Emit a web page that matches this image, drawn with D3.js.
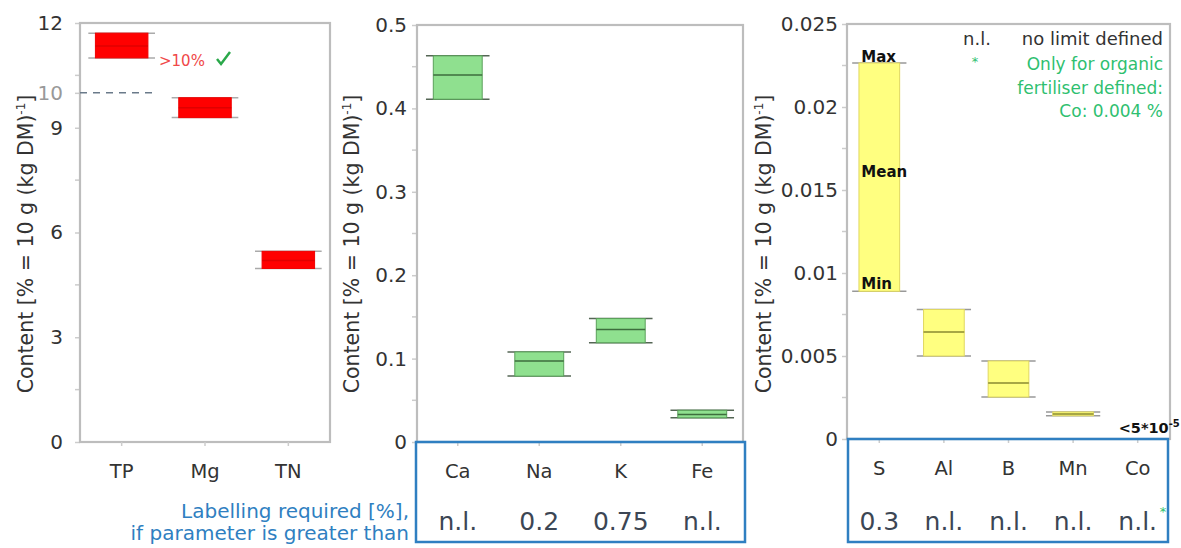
<!DOCTYPE html>
<html><head><meta charset="utf-8">
<script src="https://cdn.jsdelivr.net/npm/d3@7"></script>
<style>body{margin:0;background:#fff}svg{display:block;font-family:"DejaVu Sans",sans-serif}</style>
</head><body><svg id="c" width="1181" height="548"></svg>
<script>
// ---- data ----
const macroCats = ["TP","Mg","TN"];
const macroMin  = [11.0, 9.29, 4.97];
const macroMean = [11.34, 9.57, 5.2];
const macroMax  = [11.71, 9.86, 5.46];
const macroTicks = [0,3,6,9,10,12];
const macroMinor = [1.5,4.5,7.5,10.5];

const mainCats = ["Ca","Na","K","Fe"];
const mainMin  = [0.411, 0.079, 0.119, 0.029];
const mainMean = [0.44, 0.097, 0.135, 0.033];
const mainMax  = [0.463, 0.108, 0.148, 0.038];
const mainLimits = ["n.l.","0.2","0.75","n.l."];
const mainTicks = [0,0.1,0.2,0.3,0.4,0.5];
const mainMinor = [0.05,0.15,0.25,0.35,0.45];

const traceCats = ["S","Al","B","Mn","Co"];
const traceMin  = [0.0089, 0.005, 0.00253, 0.0014, null];
const traceMean = [0.016, 0.00645, 0.00337, 0.0015, null];
const traceMax  = [0.02265, 0.0078, 0.0047, 0.00163, null];
const traceLimits = ["0.3","n.l.","n.l.","n.l.","n.l."];
const traceTicks = [0,0.005,0.01,0.015,0.02,0.025];
const traceMinor = [0.0025,0.0075,0.0125,0.0175,0.0225];

const svg = d3.select("#c");
const FONT = "DejaVu Sans, sans-serif";
const axisGrey = "#bdbdbd";
const textCol = "#333";
const blue = "#2f7fc1";
const green = "#2fbf70";

function panel(o){
  const g = svg.append("g");
  const x = d3.scaleBand().domain(o.cats).range([o.x0,o.x1]).padding(0);
  const y = d3.scaleLinear().domain([0,o.ymax]).range([o.yb,o.yt]);
  g.selectAll(".mn").data(o.minor).join("line")
    .attr("x1",o.x0-5).attr("x2",o.x0).attr("y1",d=>y(d)).attr("y2",d=>y(d))
    .attr("stroke","#ccc").attr("stroke-width",1.5);
  const ax = d3.axisLeft(y).tickValues(o.ticks).tickFormat(o.fmt).tickSize(5).tickPadding(o.pad);
  const ag = g.append("g").attr("transform",`translate(${o.x0},0)`).call(ax);
  ag.select(".domain").remove();
  ag.selectAll("line").attr("stroke","#ccc").attr("stroke-width",1.5);
  ag.selectAll("text").attr("fill",textCol).style("font-size","20px").style("font-family",FONT);
  if(o.dimTick!==undefined) ag.selectAll("text").filter(d=>d===o.dimTick).attr("fill","#999");
  g.append("rect").attr("x",o.x0).attr("y",o.yt).attr("width",o.x1-o.x0).attr("height",o.yb-o.yt)
    .attr("fill","none").attr("stroke",axisGrey).attr("stroke-width",2.2);
  g.selectAll(".xt").data(o.cats).join("line")
    .attr("x1",d=>x(d)+x.bandwidth()/2).attr("x2",d=>x(d)+x.bandwidth()/2)
    .attr("y1",o.yb).attr("y2",o.yb+4).attr("stroke","#ccc").attr("stroke-width",1.5);
  const rows = o.cats.map((c,i)=>({c,min:o.min[i],mean:o.mean[i],max:o.max[i]})).filter(d=>d.min!=null);
  const bw = x.bandwidth()*o.boxFrac, cw = x.bandwidth()*o.capFrac;
  const cx = d=>x(d.c)+x.bandwidth()/2;
  ["max","min"].forEach(k=>{
    g.selectAll(".cap"+k).data(rows).join("line")
      .attr("x1",d=>cx(d)-cw/2).attr("x2",d=>cx(d)+cw/2).attr("y1",d=>y(d[k])).attr("y2",d=>y(d[k]))
      .attr("stroke",o.capCol).attr("stroke-width",1.5);
  });
  g.selectAll(".box").data(rows).join("rect")
    .attr("x",d=>cx(d)-bw/2).attr("width",bw).attr("y",d=>y(d.max)).attr("height",d=>y(d.min)-y(d.max))
    .attr("fill",o.fill).attr("stroke",o.boxStroke).attr("stroke-width",1);
  g.selectAll(".mean").data(rows.filter(d=>!o.noMean||!o.noMean.includes(d.c))).join("line")
    .attr("x1",d=>cx(d)-bw/2).attr("x2",d=>cx(d)+bw/2).attr("y1",d=>y(d.mean)).attr("y2",d=>y(d.mean))
    .attr("stroke",o.meanCol).attr("stroke-width",1.5);
  const t = g.append("text").attr("transform",`translate(${o.titleX},244) rotate(-90)`)
    .attr("text-anchor","middle").attr("fill",textCol).style("font-size","20.5px");
  t.append("tspan").text("Content [% = 10 g (kg DM)");
  t.append("tspan").text("-1").attr("dy",-8).style("font-size","12px");
  t.append("tspan").text("]").attr("dy",8);
  g.selectAll(".cl").data(o.cats).join("text")
    .attr("x",d=>x(d)+x.bandwidth()/2).attr("y",o.yb+36).attr("text-anchor","middle")
    .attr("fill",textCol).style("font-size","19.5px").text(d=>d);
  return {x,y,g};
}

// Panel 1
const p1 = panel({cats:macroCats,min:macroMin,mean:macroMean,max:macroMax,ticks:macroTicks,minor:macroMinor,
  ymax:12,x0:80,x1:330,yt:23,yb:442,fmt:d3.format("d"),dimTick:10,pad:12,
  boxFrac:0.63,capFrac:0.8,fill:"#ff0000",boxStroke:"#f00000",meanCol:"#e00000",capCol:"#aaa",titleX:33});
p1.g.append("line").attr("x1",80).attr("x2",157).attr("y1",p1.y(10)).attr("y2",p1.y(10))
  .attr("stroke","#6a7a8a").attr("stroke-width",1.5).attr("stroke-dasharray","7,6");
p1.g.append("text").attr("x",159).attr("y",p1.y(11.0)+8).attr("fill","#f04848").style("font-size","15px").text(">10%");
p1.g.append("path").attr("d",`M${217},${p1.y(11.0)+1} l4,5 l9,-12`).attr("fill","none")
  .attr("stroke","#2aa84a").attr("stroke-width",2.5);

// Panel 2
const p2 = panel({cats:mainCats,min:mainMin,mean:mainMean,max:mainMax,ticks:mainTicks,minor:mainMinor,
  ymax:0.5,x0:417,x1:743,yt:25,yb:442,fmt:d=>d===0?"0":d3.format(".1f")(d),pad:5,
  boxFrac:0.6,capFrac:0.78,fill:"#8fe08f",boxStroke:"#5aa05a",meanCol:"#3d6d3d",capCol:"#556655",titleX:359});

// Panel 3
const p3 = panel({cats:traceCats,min:traceMin,mean:traceMean,max:traceMax,ticks:traceTicks,minor:traceMinor,
  ymax:0.025,x0:847,x1:1170,yt:24,yb:439,fmt:d=>d===0?"0":String(+d.toFixed(3)),noMean:["S"],pad:4,
  boxFrac:0.63,capFrac:0.84,fill:"#ffff80",boxStroke:"#e0d860",meanCol:"#8a8a30",capCol:"#999",titleX:771});
{
  const left = p3.x("S")+p3.x.bandwidth()/2 - 18;
  [["Max",traceMax[0],-1],["Mean",traceMean[0],4],["Min",traceMin[0],-2]].forEach(([l,v,dy])=>{
    p3.g.append("text").attr("x",left).attr("y",p3.y(v)+dy).attr("fill","#111").style("font-weight","bold")
      .style("font-size","15px").text(l);
  });
  const cxCo = p3.x("Co")+p3.x.bandwidth()/2;
  const tc = p3.g.append("text").attr("x",cxCo-19).attr("y",p3.y(0)-6).attr("fill","#111").style("font-weight","bold").style("font-size","14.5px");
  tc.append("tspan").text("<5*10");
  tc.append("tspan").text("-5").attr("dy",-6).style("font-size","10px");
  p3.g.append("text").attr("x",977).attr("y",45).attr("text-anchor","middle").attr("fill","#333").style("font-size","18px").text("n.l.");
  p3.g.append("text").attr("x",1163).attr("y",45).attr("text-anchor","end").attr("fill","#333").style("font-size","18px").text("no limit defined");
  p3.g.append("text").attr("x",975).attr("y",66).attr("text-anchor","middle").attr("fill",green).style("font-size","13px").text("*");
  ["Only for organic","fertiliser defined:","Co: 0.004 %"].forEach((s,i)=>{
    p3.g.append("text").attr("x",1163).attr("y",70+i*23.5).attr("text-anchor","end").attr("fill",green).style("font-size","17px").text(s);
  });
}

function limitBox(p,limits,x0,x1,yb){
  p.g.append("rect").attr("x",x0).attr("y",yb).attr("width",x1-x0).attr("height",542-yb)
    .attr("fill","none").attr("stroke",blue).attr("stroke-width",2.5);
  const cats = p.x.domain();
  p.g.selectAll(".lv").data(cats).join("text")
    .attr("x",d=>p.x(d)+p.x.bandwidth()/2).attr("y",530).attr("text-anchor","middle")
    .attr("fill","#3c4654").style("font-size","25px").text((d,i)=>limits[i]);
}
limitBox(p2,mainLimits,416,745,442);
limitBox(p3,traceLimits,848,1168,439);
p3.g.append("text").attr("x",p3.x("Co")+p3.x.bandwidth()/2+22).attr("y",516).attr("fill",green).style("font-size","13px").text("*");

svg.append("text").attr("x",409).attr("y",518).attr("text-anchor","end").attr("fill",blue).style("font-size","20px").text("Labelling required [%],");
svg.append("text").attr("x",409).attr("y",540).attr("text-anchor","end").attr("fill",blue).style("font-size","20px").text("if parameter is greater than");
</script></body></html>
